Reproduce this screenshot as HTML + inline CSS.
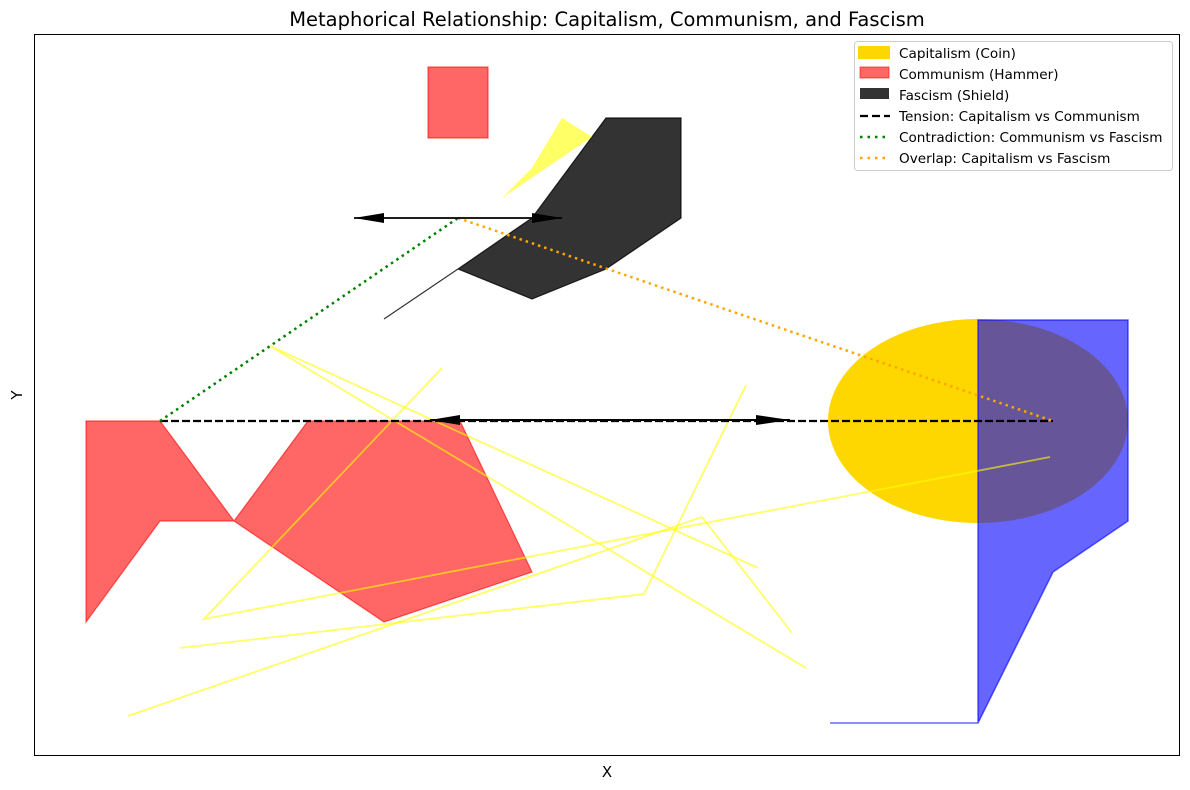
<!DOCTYPE html>
<html><head><meta charset="utf-8"><style>
html,body{margin:0;padding:0;background:#fff;}
svg{display:block;font-family:"DejaVu Sans","Liberation Sans",sans-serif;}
</style></head><body>
<svg width="1190" height="790" xmlns="http://www.w3.org/2000/svg">
<rect width="1190" height="790" fill="#fff"/>
<text x="607" y="26" font-size="19.5" text-anchor="middle">Metaphorical Relationship: Capitalism, Communism, and Fascism</text>
<text x="607" y="777" font-size="15" text-anchor="middle">X</text>
<text x="22" y="395" font-size="15" text-anchor="middle" transform="rotate(-90 22 395)">Y</text>
<!-- red shapes -->
<polygon points="86,421 160,421 234,521 308,421 460,421 532,572 384,622 234,521 160,521 86,622" fill="#ff0000" fill-opacity="0.6" stroke="#ff0000" stroke-opacity="0.6" stroke-width="1.2"/>
<rect x="428" y="67" width="60" height="71" fill="#ff0000" fill-opacity="0.6" stroke="#ff0000" stroke-opacity="0.6" stroke-width="1.2"/>
<!-- black shield -->
<polygon points="384,319 458,269 532,299 606,269 681,218 681,118 606,118 532,218 458,269" fill="#000" fill-opacity="0.8" stroke="#000" stroke-opacity="0.8" stroke-width="1.2"/>
<polygon points="502,198 532,168 562,118 592,137" fill="#ffff00" fill-opacity="0.6"/>
<!-- coin -->
<ellipse cx="978" cy="421" rx="150" ry="102" fill="#ffd700"/>
<polygon points="830,723 978,723 1053,572 1128,521 1128,320 978,320 978,723" fill="#0000ff" fill-opacity="0.6" stroke="#0000ff" stroke-opacity="0.6" stroke-width="1.5"/>
<!-- yellow lines -->
<g stroke="#ffff00" stroke-opacity="0.6" stroke-width="1.8" fill="none">
<polyline points="128,716 702,517 792,633"/>
<polyline points="180,648 644,594 746,385"/>
<polyline points="442,368 204,619 1050,457"/>
<polyline points="758,568 270,346 806,668"/>
</g>
<!-- relations -->
<line x1="160" y1="421" x2="1053" y2="421" stroke="#000" stroke-width="2.2" stroke-dasharray="8,3"/>
<line x1="160" y1="421" x2="458" y2="218" stroke="#008000" stroke-width="2.5" stroke-dasharray="2.5,4"/>
<line x1="458" y1="218" x2="1053" y2="421" stroke="#ffa500" stroke-width="2.5" stroke-dasharray="2.5,4"/>
<!-- arrows -->
<line x1="430" y1="420" x2="790" y2="420" stroke="#000" stroke-width="2"/>
<polygon points="430,420 460,415 460,425" fill="#000"/>
<polygon points="790,420 756,415 756,425" fill="#000"/>
<line x1="354" y1="218" x2="562" y2="218" stroke="#000" stroke-width="1.8"/>
<polygon points="354,218 384,213 384,223" fill="#000"/>
<polygon points="562,218 532,213 532,223" fill="#000"/>
<!-- axes frame -->
<rect x="34.5" y="34.5" width="1145" height="721" fill="none" stroke="#000" stroke-width="1"/>
<!-- legend -->
<rect x="854.5" y="41.5" width="318" height="129" rx="3" fill="#fff" fill-opacity="0.8" stroke="#ccc"/>
<g font-size="13.6">
<rect x="858" y="46" width="32" height="13" fill="#ffd700"/>
<rect x="860" y="67" width="29" height="11" fill="#ff0000" fill-opacity="0.6" stroke="#ff0000" stroke-opacity="0.6"/>
<rect x="860" y="88" width="29" height="11" fill="#000" fill-opacity="0.8"/>
<line x1="860" y1="116" x2="890" y2="116" stroke="#000" stroke-width="2.2" stroke-dasharray="8,4"/>
<line x1="860" y1="137" x2="890" y2="137" stroke="#008000" stroke-width="2.5" stroke-dasharray="2.5,5"/>
<line x1="860" y1="158" x2="890" y2="158" stroke="#ffa500" stroke-width="2.5" stroke-dasharray="2.5,5"/>
<text x="899" y="58">Capitalism (Coin)</text>
<text x="899" y="79">Communism (Hammer)</text>
<text x="899" y="100">Fascism (Shield)</text>
<text x="899" y="121">Tension: Capitalism vs Communism</text>
<text x="899" y="142">Contradiction: Communism vs Fascism</text>
<text x="899" y="163">Overlap: Capitalism vs Fascism</text>
</g>
</svg>
</body></html>
